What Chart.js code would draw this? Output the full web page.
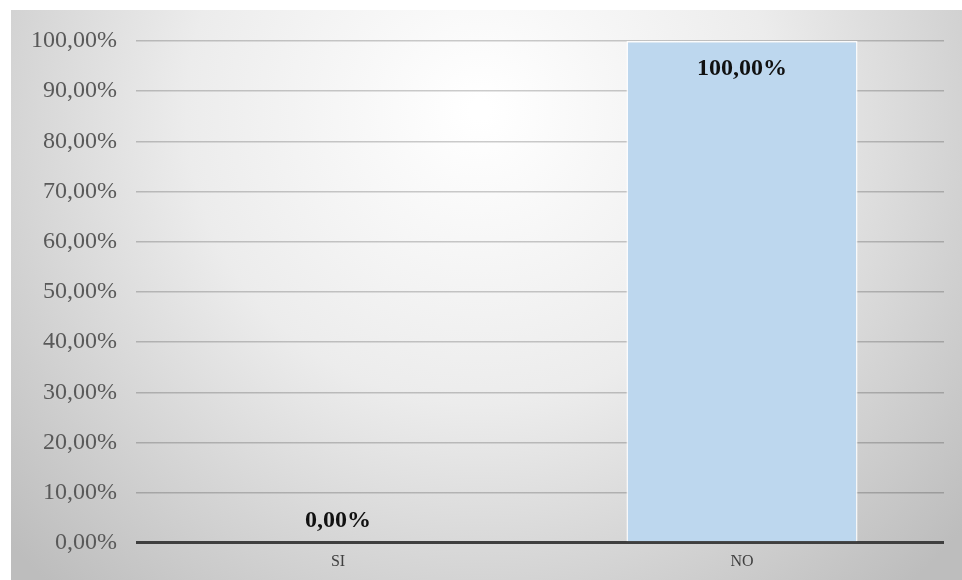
<!DOCTYPE html>
<html>
<head>
<meta charset="utf-8">
<script src="https://cdn.jsdelivr.net/npm/chart.js@4"></script>
<style>
    html, body { margin: 0; padding: 0; background: #ffffff; }
    #wrap { width: 962px; height: 580px; position: relative; }
</style>
</head>
<body>
<div id="wrap"><canvas id="myChart"></canvas></div>
<script>
const categories = ['SI', 'NO'];
const values = [0, 100];
const valueLabels = ['0,00%', '100,00%'];

// fondo degradado tipo Excel
const backgroundPlugin = {
    id: 'fondo',
    beforeDraw(chart) {
        const ctx = chart.ctx;
        const w = chart.width, h = chart.height;
        ctx.save();
        ctx.fillStyle = '#ffffff';
        ctx.fillRect(0, 0, w, h);
        const g = ctx.createRadialGradient(480, 110, 10, 480, 110, 640);
        g.addColorStop(0, '#ffffff');
        g.addColorStop(0.45, '#ececec');
        g.addColorStop(1, '#bdbdbd');
        ctx.fillStyle = g;
        ctx.fillRect(11, 10, w - 11, h - 10);
        ctx.restore();
    }
};

// etiquetas de datos
const labelsPlugin = {
    id: 'etiquetas',
    afterDatasetsDraw(chart) {
        const ctx = chart.ctx;
        const meta = chart.getDatasetMeta(0);
        ctx.save();
        ctx.font = 'bold 24px "Liberation Serif"';
        ctx.fillStyle = '#111111';
        ctx.textAlign = 'center';
        ctx.textBaseline = 'middle';
        meta.data.forEach((bar, i) => {
            const y = values[i] > 0 ? bar.y + 28 : bar.y - 22;
            ctx.fillText(valueLabels[i], bar.x, y);
        });
        ctx.restore();
    }
};

const ctx = document.getElementById('myChart').getContext('2d');
new Chart(ctx, {
    type: 'bar',
    data: {
        labels: categories,
        datasets: [{
            data: values,
            backgroundColor: '#bdd7ee',
            borderColor: 'rgba(255,255,255,0.9)',
            borderWidth: 1.5,
            barPercentage: 0.572,
            categoryPercentage: 1
        }]
    },
    options: {
        responsive: true,
        maintainAspectRatio: false,
        animation: false,
        layout: { padding: { top: 41, right: 18, bottom: 0, left: 12 } },
        plugins: {
            legend: { display: false },
            tooltip: { enabled: false }
        },
        scales: {
            x: {
                grid: { display: false, drawTicks: false },
                border: { display: false },
                ticks: {
                    color: '#404040',
                    font: { family: 'Liberation Serif', size: 16 },
                    padding: 9
                }
            },
            y: {
                min: 0,
                max: 100,
                border: { display: false },
                grid: {
                    drawTicks: false,
                    color: c => c.tick && c.tick.value === 0 ? '#3f3f3f' : 'rgba(0,0,0,0.2)',
                    lineWidth: c => c.tick && c.tick.value === 0 ? 3 : 1.5
                },
                ticks: {
                    stepSize: 10,
                    color: '#595959',
                    padding: 19,
                    font: { family: 'Liberation Serif', size: 24 },
                    callback: v => v.toFixed(2).replace('.', ',') + '%'
                }
            }
        }
    },
    plugins: [backgroundPlugin, labelsPlugin]
});
</script>
</body>
</html>
